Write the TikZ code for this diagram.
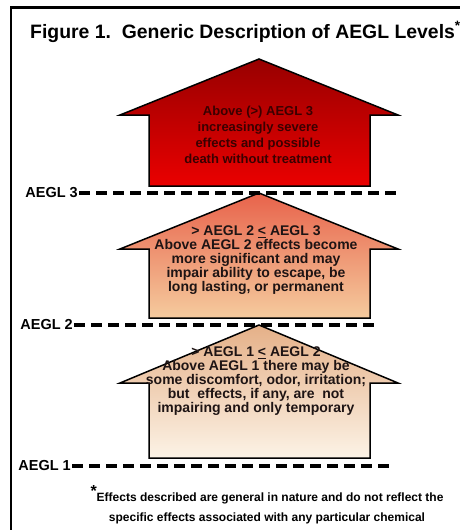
\documentclass[tikz,border=0pt]{standalone}
\usepackage{fontspec}
\setmainfont{Liberation Sans}
\definecolor{threetop}{HTML}{980000}
\definecolor{threebottom}{HTML}{EA0000}
\definecolor{twotop}{HTML}{E8634B}
\definecolor{twobottom}{HTML}{F5CB9E}
\definecolor{onetop}{HTML}{E5B088}
\definecolor{onebottom}{HTML}{FCF3E6}
\definecolor{threetext}{HTML}{3A0000}
\definecolor{lowtext}{HTML}{1E1414}
\tikzset{
    levelarrow/.style={draw, line width=1.5pt, line join=miter},
    arrowtext/.style={font=\bfseries\fontsize{14}{14}\selectfont,
                      align=center, text=lowtext, inner sep=0pt},
    levellabel/.style={font=\bfseries\fontsize{14.5}{15}\selectfont,
                       anchor=east, inner sep=1pt},
    levelline/.style={dash pattern=on 11pt off 6pt, line width=3.2pt},
    frame/.style={line width=2.6pt},
}
% apex y, shoulder y, base y, top colour, bottom colour
\newcommand{\levelarrow}[5]{
    \draw[levelarrow, top color=#4, bottom color=#5]
        (149,#3) -- (149,#2) -- (120,#2) -- (259,#1)
        -- (398,#2) -- (370,#2) -- (370,#3) -- cycle;
}

\begin{document}
\begin{tikzpicture}[x=1pt, y=-1pt]
    \path[use as bounding box] (0,0) rectangle (459,530);
    \draw[frame] (11,540) -- (11,7.5) -- (470,7.5);

    \node[anchor=base west, inner sep=0pt,
          font=\bfseries\fontsize{19.4}{22}\selectfont] (title) at (30,38)
        {Figure 1.\ \ Generic Description of AEGL Levels\textsuperscript{*}};

    \levelarrow{59}{115}{186}{threetop}{threebottom}
    \levelarrow{193}{249}{318}{twotop}{twobottom}
    \levelarrow{325}{383}{458}{onetop}{onebottom}

    \node[arrowtext, text=threetext, font=\bfseries\fontsize{13}{16}\selectfont]
        (threetxt) at (258,135)
        {Above (>) AEGL 3\\increasingly severe\\effects and possible\\death without treatment};
    \node[arrowtext] (twotxt) at (256,260)
        {> AEGL 2 \underline{<} AEGL 3\\Above AEGL 2 effects become\\more significant and may\\impair ability to escape, be\\long lasting, or permanent};
    \node[arrowtext] (onetxt) at (256,381)
        {> AEGL 1 \underline{<} AEGL 2\\Above AEGL 1 there may be\\some discomfort, odor, irritation;\\but\ \ effects, if any, are\ \ not\\impairing and only temporary};

    \node[levellabel] (aeglthree) at (79,193) {AEGL 3};
    \node[levellabel] (aegltwo) at (74,325) {AEGL 2};
    \node[levellabel] (aeglone) at (72,466) {AEGL 1};
    \coordinate (threeend) at (398,193);
    \coordinate (twoend) at (378,325);
    \coordinate (oneend) at (390,466);
    \draw[levelline] (aeglthree.east) -- (threeend);
    \draw[levelline] (aegltwo.east) -- (twoend);
    \draw[levelline] (aeglone.east) -- (oneend);

    \node[align=center, font=\bfseries\fontsize{12}{20}\selectfont]
        (footnote) at (267,505)
        {\raisebox{5pt}{\fontsize{16}{16}\selectfont *}Effects described are general in nature and do not reflect the\\specific effects associated with any particular chemical};
\end{tikzpicture}
\end{document}
